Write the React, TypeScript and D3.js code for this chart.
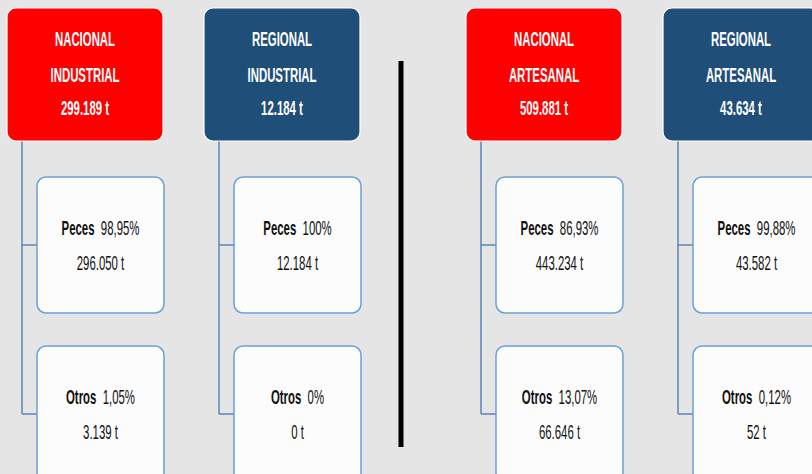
import React from 'react';
import * as d3 from 'd3';

// header boxes
const titles1 = ['NACIONAL', 'REGIONAL', 'NACIONAL', 'REGIONAL'];
const titles2 = ['INDUSTRIAL', 'INDUSTRIAL', 'ARTESANAL', 'ARTESANAL'];
const totals = ['299.189 t', '12.184 t', '509.881 t', '43.634 t'];
const headerColors = ['#ff0000', '#1f4e79', '#ff0000', '#1f4e79'];

// child boxes
const childLabels = ['Peces', 'Otros'];
const pecesPct = ['98,95%', '100%', '86,93%', '99,88%'];
const pecesTons = ['296.050 t', '12.184 t', '443.234 t', '43.582 t'];
const otrosPct = ['1,05%', '0%', '13,07%', '0,12%'];
const otrosTons = ['3.139 t', '0 t', '66.646 t', '52 t'];

// column slots (a wider gap between industrial and artesanal groups)
const slots = [0, 1, 2.33, 3.33];
const separatorSlot = 2;

const W = 812;
const H = 474;
const FONT = '"Liberation Sans", Arial, sans-serif';
const SX = 0.57; // narrow text

const App = () => {
  const x = d3.scaleLinear().domain([0, 1]).range([7, 204]);
  const y = d3.scaleLinear().domain([0, 2]).range([8, 346]);

  const headW = 156;
  const headH = 133;
  const childOff = 30;
  const childW = 127;
  const childH = 136;
  const connOff = 15;

  const NText = ({ cx, cy, children, fill = '#111', weight = 'normal' }: any) => (
    <g transform={`translate(${cx},${cy}) scale(${SX},1)`}>
      <text
        textAnchor="middle"
        dominantBaseline="central"
        fontFamily={FONT}
        fontSize={20}
        fontWeight={weight}
        fill={fill}
      >
        {children}
      </text>
    </g>
  );

  return (
    <svg
      width={W}
      height={H}
      style={{ position: 'absolute', left: 0, top: 0, display: 'block' }}
    >
      <rect x={0} y={0} width={W} height={H} fill="#e5e5e5" />

      {/* separator */}
      <rect x={x(separatorSlot) - 2.5} y={61} width={5} height={386} fill="#000" />

      {slots.map((s, i) => {
        const x0 = x(s);
        const top = y(0);
        const cx = x0 + connOff;
        const rows = [
          { label: childLabels[0], pct: pecesPct[i], tons: pecesTons[i] },
          { label: childLabels[1], pct: otrosPct[i], tons: otrosTons[i] },
        ];
        const lastMid = y(2) + childH / 2;
        return (
          <g key={i}>
            {/* connector */}
            <line x1={cx} x2={cx} y1={top + headH} y2={lastMid} stroke="#5b84b8" strokeWidth={1.5} />
            {rows.map((r, j) => {
              const cy0 = y(j + 1);
              const mid = cy0 + childH / 2;
              return (
                <g key={j}>
                  <line x1={cx} x2={x0 + childOff} y1={mid} y2={mid} stroke="#5b84b8" strokeWidth={1.5} />
                  <rect
                    x={x0 + childOff}
                    y={cy0}
                    width={childW}
                    height={childH}
                    rx={9}
                    fill="#fcfcfc"
                    stroke="#6a9fd8"
                    strokeWidth={1.5}
                  />
                  <NText cx={x0 + childOff + childW / 2} cy={cy0 + 51}>
                    <tspan fontWeight="bold">{r.label}</tspan>
                    <tspan>{'\u00a0\u00a0' + r.pct}</tspan>
                  </NText>
                  <NText cx={x0 + childOff + childW / 2} cy={cy0 + 86}>
                    {r.tons}
                  </NText>
                </g>
              );
            })}
            {/* header */}
            <rect
              x={x0}
              y={top}
              width={headW}
              height={headH}
              rx={9}
              fill={headerColors[i]}
              stroke="#ffffff"
              strokeWidth={1.2}
            />
            <NText cx={x0 + headW / 2} cy={top + 31} fill="#fff" weight="bold">{titles1[i]}</NText>
            <NText cx={x0 + headW / 2} cy={top + 67} fill="#fff" weight="bold">{titles2[i]}</NText>
            <NText cx={x0 + headW / 2} cy={top + 100} fill="#fff" weight="bold">{totals[i]}</NText>
          </g>
        );
      })}
    </svg>
  );
};

export default App;
